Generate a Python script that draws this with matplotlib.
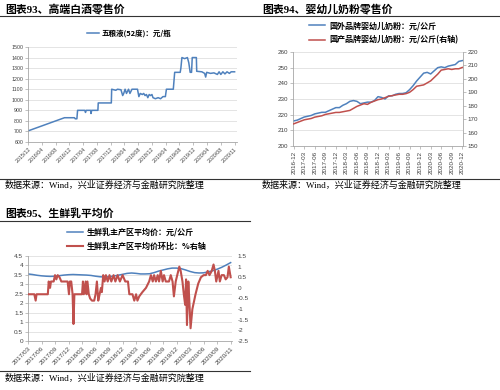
import matplotlib
matplotlib.use('Agg')
import matplotlib.pyplot as plt
from matplotlib.lines import Line2D
from matplotlib.ticker import FuncFormatter

plt.rcParams['font.family'] = ['Liberation Sans', 'Noto Sans CJK SC']
plt.rcParams['axes.linewidth'] = 0.6

W, H = 500, 390
BLUE = '#4F81BD'
RED = '#C0504D'
GRID = '#D9D9D9'
AXC = '#A6A6A6'
TXT = '#404040'
SERIF = ['Liberation Serif', 'Noto Sans CJK SC']

# ---- 图表93 五粮液 (month offset from 2015/12, price)
wly_m = [0, 10.6, 13.5, 13.7, 14.2, 14.4, 16.5, 16.7, 16.9, 18.2, 18.3, 18.5,
         20.3, 20.4, 24.2, 24.3, 25.5, 26, 27, 27.5, 27.8, 28.2, 28.6, 29.2,
         29.6, 30.2, 31.8, 32.2, 32.6, 33.2, 33.6, 34, 34.4, 34.8, 35.2, 35.6,
         36, 36.3, 37, 37.8, 38.5, 39.2, 39.9, 40.2, 42.2, 42.6, 44.2, 44.4,
         44.7, 45.5, 46.3, 46.7, 47.1, 47.5, 47.7, 48.9, 49.0, 50.5, 51.3, 51.6,
         51.9, 53, 54, 55, 55.5, 56, 56.6, 57.2, 57.8, 58.5, 59, 60]
wly_v = [705, 830, 830, 820, 820, 900, 900, 880, 900, 900, 870, 900,
         900, 970, 970, 1100, 1090, 1100, 1095, 1040, 1060, 1100, 1060, 1100,
         1060, 1100, 1100, 1030, 1060, 1050, 1060, 1040, 1050, 1020, 1050, 1040,
         1050, 1020, 1010, 1020, 1010, 1030, 1030, 1100, 1100, 1260, 1260, 1300,
         1400, 1390, 1400, 1350, 1260, 1260, 1400, 1400, 1270, 1265, 1250, 1215,
         1260, 1250, 1255, 1240, 1265, 1240, 1265, 1245, 1265, 1250, 1265, 1265]
wly_ticks = ['2015/12', '2016/04', '2016/08', '2016/12', '2017/04', '2017/08',
             '2017/12', '2018/04', '2018/08', '2018/12', '2019/04', '2019/08',
             '2019/12', '2020/04', '2020/08', '2020/11']

# ---- 图表94 婴幼儿奶粉 monthly 2016-12 .. 2020-12
foreign = [216, 216.5, 217.5, 218.5, 219, 219.5, 220.5, 221, 221.5, 221.5, 222.5, 223.5, 224.5,
           224.5, 226, 227, 228.5, 229, 228.5, 227, 227.5, 228, 228, 229, 231.5,
           231, 230, 232, 232, 233, 233.5, 233.5, 234, 236, 238.5, 241.5, 244,
           246.5, 247, 246, 248, 250, 250.5, 250, 251, 251.5, 252, 254, 254.5]
domestic = [166.5, 167.5, 168.5, 169.5, 170, 170.5, 171.5, 172, 172.5, 173.5, 174, 174.5, 175,
            175, 175.5, 176, 176.5, 178, 179.5, 180.5, 181.5, 181, 182.5, 183.5, 184.5,
            185, 186, 187, 187.5, 188, 188.5, 188.5, 189, 190, 192, 194.5, 195,
            195.5, 197, 198.5, 201, 203.5, 206.5, 207, 207.5, 207, 207.5, 207.5, 208.5]
milk_ticks = ['2016-12', '2017-03', '2017-06', '2017-09', '2017-12', '2018-03',
              '2018-06', '2018-09', '2018-12', '2019-03', '2019-06', '2019-09',
              '2019-12', '2020-03', '2020-06', '2020-09', '2020-12']

# ---- 图表95 生鲜乳 (month offset from 2017/03)
raw_m = list(range(46))
raw_price = [3.55, 3.52, 3.48, 3.45, 3.43, 3.42, 3.43, 3.46, 3.49, 3.51, 3.52, 3.51,
             3.50, 3.49, 3.47, 3.43, 3.40, 3.39, 3.40, 3.44, 3.48, 3.53, 3.58, 3.60,
             3.58, 3.55, 3.55, 3.56, 3.62, 3.70, 3.76, 3.82, 3.86, 3.86, 3.83, 3.76,
             3.68, 3.62, 3.60, 3.61, 3.66, 3.72, 3.80, 3.90, 4.02, 4.15]
mom_m = [0, 1.4, 1.7, 1.9, 4.4, 4.6, 4.9, 5.1, 5.7, 6.0, 6.3, 6.6, 7.0, 7.4, 8.8,
         9.1, 9.3, 9.6, 9.9, 10.1, 10.3, 12.0, 12.2, 12.4, 12.8, 13.0, 13.2, 13.5,
         13.8, 14.2, 14.7, 15.0, 15.3, 15.6, 15.9, 16.2, 16.4, 16.7, 17.0, 17.3,
         17.7, 18.1, 18.5, 19.0, 19.4, 19.9, 20.4, 21.0, 21.6, 22.2, 22.5, 23.2,
         23.6, 24.0, 24.3, 24.7, 25.4, 26.2, 26.9, 27.3, 27.7, 28.0, 28.4, 28.8,
         29.1, 29.5, 29.9, 30.2, 30.6, 31.3, 31.7, 32.1, 32.4, 32.8, 33.6, 33.9,
         34.3, 34.6, 34.9, 35.1, 35.3, 35.6, 35.8, 36.1, 36.5, 36.9, 37.2, 37.8,
         38.4, 39.0, 39.5, 39.9, 40.3, 40.8, 41.2, 41.5, 41.8, 42.3, 42.6, 43.0,
         43.5, 43.9, 44.3, 44.6, 45.0]
mom_v = [-0.3, -0.3, -0.6, -0.3, -0.3, 0.3, 0.0, 0.3, 0.3, 0.6, 0.4, 0.6, 0.5, 0.3, 0.3,
         -0.3, 0.3, 0.3, -0.3, -1.7, -0.3, -0.3, 0.3, -0.3, 0.3, -0.3, 0.3, -0.3,
         -0.5, -0.6, -0.6, -0.3, 0.3, -0.6, -0.3, 0.0, -0.2, 0.6, 0.3, 0.6,
         0.3, 0.6, 0.3, 0.6, 0.3, 0.6, 0.3, 0.6, 0.3, 0.3, -0.3, -0.3,
         -0.6, -0.3, -0.6, -0.4, -0.2, 0.0, 0.3, 0.6, 0.3, 0.6, 0.3, 0.6,
         0.3, 0.8, 0.3, 0.6, 0.3, 0.3, 0.6, 0.3, -0.4, 0.3, 1.0, 0.8,
         0.3, -0.3, -0.8, 0.4, -1.75, 0.3, -0.5, -1.9, -1.0, -0.6, -0.3, 0.2,
         0.5, 0.6, 0.6, 0.8, 0.6, 0.8, 1.1, 0.8, 0.3, 0.8, 0.3, 0.6,
         0.6, 0.4, 0.5, 1.0, 0.5]
raw_ticks = ['2017/03', '2017/06', '2017/09', '2017/12', '2018/03', '2018/06',
             '2018/09', '2018/12', '2019/03', '2019/06', '2019/09', '2019/12',
             '2020/03', '2020/06', '2020/09', '2020/11']

fig = plt.figure(figsize=(5, 3.9), dpi=100)


def px_axes(x0, y0, x1, y1):
    return fig.add_axes([x0 / W, 1 - y1 / H, (x1 - x0) / W, (y1 - y0) / H])


def ftext(x, y, s, **kw):
    fig.text(x / W, 1 - y / H, s, va='center', **kw)


def hline(x0, x1, y, lw=0.8, c='#333333'):
    fig.add_artist(Line2D([x0 / W, x1 / W], [1 - y / H, 1 - y / H], lw=lw, color=c))


def style(ax, fs):
    for s in ['top', 'right']:
        ax.spines[s].set_visible(False)
    ax.spines['left'].set_color(AXC)
    ax.spines['bottom'].set_color(AXC)
    ax.tick_params(axis='both', labelsize=fs, colors=TXT, length=2, width=0.5,
                   pad=1.5, direction='out')
    ax.tick_params(axis='both', color=AXC)
    ax.grid(axis='y', color=GRID, lw=0.5)
    ax.set_axisbelow(True)


# ---------------- headers / footers
ftext(5, 9, '图表93、高端白酒零售价', fontsize=7.8, fontweight='bold', family=SERIF)
ftext(262, 9, '图表94、婴幼儿奶粉零售价', fontsize=7.8, fontweight='bold', family=SERIF)
ftext(5, 214, '图表95、生鲜乳平均价', fontsize=7.8, fontweight='bold', family=SERIF)
hline(0, 500, 16)
hline(0, 500, 179)
hline(0, 250, 221)
hline(0, 250, 371)
src = '数据来源：Wind，兴业证券经济与金融研究院整理'
ftext(5, 185, src, fontsize=6.5, family=SERIF)
ftext(262, 185, src, fontsize=6.5, family=SERIF)
ftext(5, 378, src, fontsize=6.5, family=SERIF)

legprop = {'size': 5.4, 'weight': 'bold', 'family': ['Noto Sans CJK SC']}

# ---------------- 图表93
ax1 = px_axes(28, 47, 237, 142)
ax1.plot(wly_m, wly_v, color=BLUE, lw=1.1, label='五粮液(52度)：元/瓶')
ax1.set_xlim(0, 60.7)
ax1.set_ylim(600, 1500)
ax1.set_yticks(range(600, 1501, 100))
ax1.set_xticks(range(0, 61, 4))
ax1.set_xticklabels(wly_ticks, rotation=45, ha='right', rotation_mode='anchor')
style(ax1, 3.8)
ax1.legend(loc='center left', bbox_to_anchor=(87 / W, 1 - 33 / H),
           bbox_transform=fig.transFigure, frameon=False, prop=legprop,
           handlelength=1.6, handletextpad=0.4, borderpad=0, borderaxespad=0)

# ---------------- 图表94
ax2 = px_axes(293, 52, 463, 146)
ax2r = ax2.twinx()
l1, = ax2.plot(range(len(foreign)), foreign, color=BLUE, lw=1.1,
               label='国外品牌婴幼儿奶粉：元/公斤')
l2, = ax2r.plot(range(len(domestic)), domestic, color=RED, lw=1.1,
                label='国产品牌婴幼儿奶粉：元/公斤(右轴)')
ax2.set_xlim(-0.2, 48.2)
ax2.set_ylim(200, 260)
ax2r.set_ylim(150, 220)
ax2.set_yticks(range(200, 261, 10))
ax2r.set_yticks(range(150, 221, 10))
ax2.set_xticks(range(0, 49, 3))
ax2.set_xticklabels(milk_ticks, rotation=90)
style(ax2, 4.5)
for s in ['top', 'left', 'bottom']:
    ax2r.spines[s].set_visible(False)
ax2r.spines['right'].set_color(AXC)
ax2r.tick_params(axis='y', labelsize=4.5, colors=TXT, length=2, width=0.5, pad=1.5)
ax2r.tick_params(axis='y', color=AXC)
ax2.legend([l1, l2], [l1.get_label(), l2.get_label()], loc='upper left',
           bbox_to_anchor=(309 / W, 1 - 21 / H), bbox_transform=fig.transFigure,
           frameon=False, prop=dict(legprop, size=5.8), handlelength=2.0,
           handletextpad=0.5, borderpad=0, borderaxespad=0, labelspacing=0.7)

# ---------------- 图表95
ax3 = px_axes(28, 256, 232, 341)
ax3r = ax3.twinx()
l3, = ax3.plot(raw_m, raw_price, color=BLUE, lw=1.1,
               label='生鲜乳主产区平均价：元/公斤')
l4, = ax3r.plot(mom_m, mom_v, color=RED, lw=1.5,
                label='生鲜乳主产区平均价环比：%右轴')
ax3.set_xlim(0, 45.3)
ax3.set_ylim(0, 4.5)
ax3r.set_ylim(-2.5, 1.5)
ax3.set_yticks([i * 0.5 for i in range(10)])
ax3r.set_yticks([-2.5 + i * 0.5 for i in range(9)])
fmt = FuncFormatter(lambda v, p: '%g' % v)
ax3.yaxis.set_major_formatter(fmt)
ax3r.yaxis.set_major_formatter(fmt)
ax3.set_xticks(range(0, 46, 3))
ax3.set_xticklabels(raw_ticks, rotation=45, ha='right', rotation_mode='anchor')
style(ax3, 4.6)
for s in ['top', 'left', 'bottom', 'right']:
    ax3r.spines[s].set_visible(False)
ax3r.tick_params(axis='y', labelsize=4.6, colors=TXT, length=0, pad=4)
ax3.legend([l3, l4], [l3.get_label(), l4.get_label()], loc='upper left',
           bbox_to_anchor=(67 / W, 1 - 228 / H), bbox_transform=fig.transFigure,
           frameon=False, prop=dict(legprop, size=5.8), handlelength=2.0,
           handletextpad=0.5, borderpad=0, borderaxespad=0, labelspacing=0.55)

fig.savefig('out.png', dpi=100)
